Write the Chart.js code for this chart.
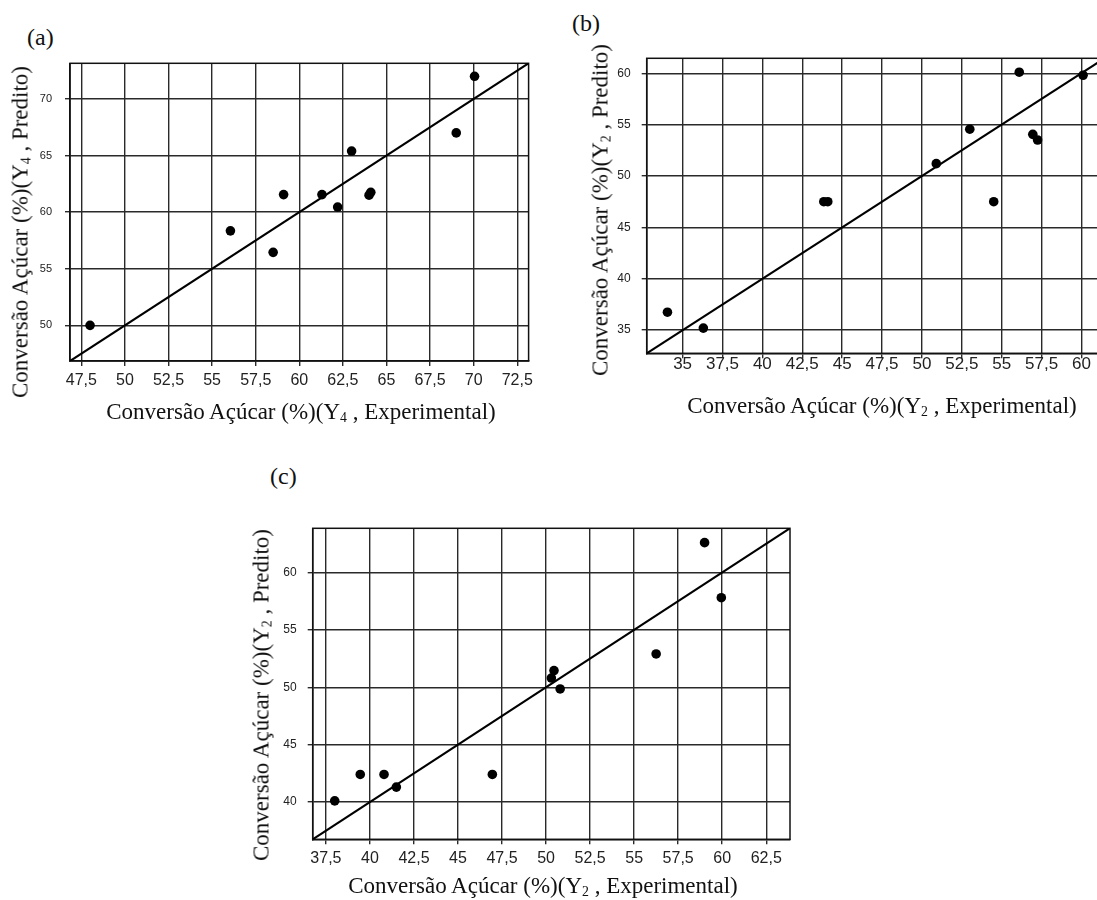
<!DOCTYPE html>
<html>
<head>
<meta charset="utf-8">
<title>Conversão Açúcar - experimental x predito</title>
<script src="https://cdn.jsdelivr.net/npm/chart.js@4.4.0/dist/chart.umd.min.js"></script>
<style>
    html, body { margin: 0; padding: 0; background: #fff; width: 1097px; height: 900px; overflow: hidden; }
    canvas { position: absolute; }
    .tag, .axis-title {
        position: absolute;
        font-family: "Liberation Serif", "Times New Roman", serif;
        line-height: 1;
        color: #111;
        white-space: nowrap;
    }
    .tag { font-size: 24px; }
    .axis-title { font-size: 23px; transform: translate(-50%, -50%); }
    .axis-title.vertical { transform: translate(-50%, -50%) rotate(-90deg); }
    .axis-title sub { font-size: 60%; vertical-align: -0.25em; line-height: 0; }
</style>
</head>
<body>
<div class="tag" style="left:27px; top:25px;">(a)</div>
<div class="tag" style="left:572px; top:11px;">(b)</div>
<div class="tag" style="left:270px; top:464px;">(c)</div>

<canvas id="chartA" width="545" height="430" style="left:0; top:0;"></canvas>
<canvas id="chartB" width="560" height="420" style="left:560px; top:0;"></canvas>
<canvas id="chartC" width="600" height="460" style="left:220px; top:440px;"></canvas>

<div class="axis-title" style="left:301px; top:411px;">Conversão Açúcar (%)(Y<sub>4</sub> , Experimental)</div>
<div class="axis-title vertical" style="left:20px; top:232px;">Conversão Açúcar (%)(Y<sub>4</sub> , Predito)</div>
<div class="axis-title" style="left:882px; top:405px;">Conversão Açúcar (%)(Y<sub>2</sub> , Experimental)</div>
<div class="axis-title vertical" style="left:600px; top:210px;">Conversão Açúcar (%)(Y<sub>2</sub> , Predito)</div>
<div class="axis-title" style="left:543px; top:885px;">Conversão Açúcar (%)(Y<sub>2</sub> , Experimental)</div>
<div class="axis-title vertical" style="left:261px; top:695px;">Conversão Açúcar (%)(Y<sub>2</sub> , Predito)</div>

<script>
// (a) Y4 - experimental vs predicted sugar conversion (%)
const expA = [48.0, 56.05, 58.5, 59.1, 61.3, 62.2, 63.0, 64.0, 64.1, 69.0, 70.05];
const predA = [50.0, 58.35, 56.45, 61.55, 61.55, 60.45, 65.4, 61.5, 61.75, 67.0, 72.0];
const rangeA = [46.85, 73.15];
const xTicksA = [47.5, 50, 52.5, 55, 57.5, 60, 62.5, 65, 67.5, 70, 72.5];
const yTicksA = [50, 55, 60, 65, 70];

// (b) Y2 - experimental vs predicted
const expB = [34.05, 36.3, 43.85, 44.1, 50.9, 53.0, 54.5, 56.1, 56.95, 57.25, 60.1];
const predB = [36.75, 35.2, 47.5, 47.5, 51.2, 54.55, 47.5, 60.1, 54.05, 53.5, 59.8];
const rangeB = [32.75, 61.45];
const xTicksB = [35, 37.5, 40, 42.5, 45, 47.5, 50, 52.5, 55, 57.5, 60];
const yTicksB = [35, 40, 45, 50, 55, 60];

// (c) Y2 - experimental vs predicted
const expC = [38.0, 39.45, 40.8, 41.5, 46.95, 50.3, 50.45, 50.8, 56.25, 59.0, 59.95];
const predC = [40.1, 42.4, 42.4, 41.3, 42.4, 50.8, 51.45, 49.85, 52.9, 62.6, 57.8];
const rangeC = [36.75, 63.85];
const xTicksC = [37.5, 40, 42.5, 45, 47.5, 50, 52.5, 55, 57.5, 60, 62.5];
const yTicksC = [40, 45, 50, 55, 60];

const sans = '"Liberation Sans", Arial, sans-serif';

// decimal comma, as in the Portuguese axis labels
const comma = (v) => String(v).replace('.', ',');

// closes the plot box on the top and right sides
const framePlugin = {
    id: 'frame',
    beforeDatasetsDraw(chart) {
        const { ctx, chartArea: a } = chart;
        ctx.save();
        ctx.strokeStyle = '#111';
        ctx.lineWidth = 1.5;
        ctx.strokeRect(a.left, a.top, a.right - a.left, a.bottom - a.top);
        ctx.restore();
    }
};

/* builds one parity plot: scatter points plus the y = x line */
const makePanel = (id, xs, ys, range, xTicks, yTicks, box) => {
    const points = xs.map((x, i) => ({ x: x, y: ys[i] }));
    const grid = { color: '#2a2a2a', lineWidth: 1.4, drawTicks: true, tickLength: 5, tickColor: '#2a2a2a' };

    return new Chart(document.getElementById(id), {
        type: 'scatter',
        data: {
            datasets: [{
                data: points,
                backgroundColor: '#000',
                borderWidth: 0,
                pointRadius: 4.8,
                pointHoverRadius: 4.8
            }, {
                type: 'line',
                data: [{ x: range[0], y: range[0] }, { x: range[1], y: range[1] }],
                borderColor: '#000',
                borderWidth: 2.2,
                pointRadius: 0
            }]
        },
        options: {
            responsive: false,
            animation: false,
            events: [],
            layout: { padding: { top: box.top, right: box.right, left: 0, bottom: 0 } },
            plugins: { legend: { display: false }, tooltip: { enabled: false } },
            scales: {
                x: {
                    type: 'linear',
                    min: range[0],
                    max: range[1],
                    afterBuildTicks: (s) => { s.ticks = xTicks.map((v) => ({ value: v })); },
                    afterFit: (s) => { s.height = box.bottom; },
                    grid: grid,
                    border: { display: true, color: '#111', width: 1.5 },
                    ticks: {
                        callback: comma,
                        autoSkip: false,
                        maxRotation: 0,
                        padding: box.xPad,
                        color: '#222',
                        font: { family: sans, size: box.xFont }
                    }
                },
                y: {
                    type: 'linear',
                    min: range[0],
                    max: range[1],
                    afterBuildTicks: (s) => { s.ticks = yTicks.map((v) => ({ value: v })); },
                    afterFit: (s) => { s.width = box.left; },
                    grid: grid,
                    border: { display: true, color: '#111', width: 1.5 },
                    ticks: {
                        callback: comma,
                        padding: box.yPad,
                        color: '#222',
                        font: { family: sans, size: box.yFont }
                    }
                }
            }
        },
        plugins: [framePlugin]
    });
};

makePanel('chartA', expA, predA, rangeA, xTicksA, yTicksA,
    { left: 70, right: 16.4, top: 63.3, bottom: 69, xPad: 5, yPad: 13, xFont: 16, yFont: 11 });

makePanel('chartB', expB, predB, rangeB, xTicksB, yTicksB,
    { left: 86.7, right: 15.4, top: 58.3, bottom: 66.7, xPad: -4, yPad: 11, xFont: 17, yFont: 12 });

makePanel('chartC', expC, predC, rangeC, xTicksC, yTicksC,
    { left: 92.7, right: 30, top: 88.3, bottom: 60.7, xPad: 5, yPad: 11, xFont: 16, yFont: 12 });
</script>
</body>
</html>
